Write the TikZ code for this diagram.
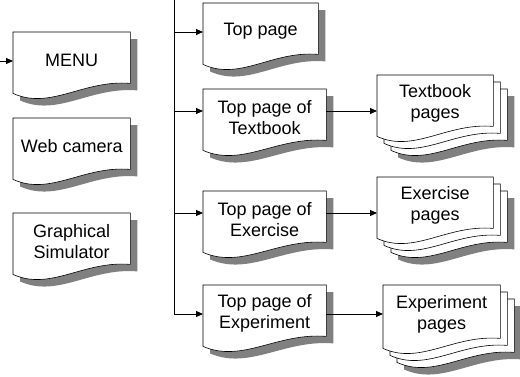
\documentclass[tikz,border=0pt]{standalone}
\usepackage{fontspec}
\setmainfont{Liberation Sans}
\usetikzlibrary{calc,arrows.meta}
\pgfdeclarelayer{background}
\pgfsetlayers{background,main}
\definecolor{shadowc}{HTML}{808080}
% #1 node, #2 shift, #3 options
\newcommand\docshape[3]{%
  \path[#3] ($(#1.north west)+#2$) -- ($(#1.north east)+#2$) -- ($(#1.south east)+(0,5pt)+#2$)
    .. controls ($(#1.south west)!0.6!(#1.south east)+(0,9pt)+#2$) and ($(#1.south west)!0.32!(#1.south east)+(0,-22pt)+#2$)
    .. ($(#1.south west)+(0,-5pt)+#2$) -- cycle;}
\newcommand\onedoc[1]{%
  \docshape{#1}{(7pt,-7pt)}{fill=shadowc}%
  \docshape{#1}{(0pt,0pt)}{docline}}
\newcommand\stackdoc[1]{%
  \docshape{#1}{(21pt,-21pt)}{fill=shadowc}%
  \docshape{#1}{(14pt,-14pt)}{docline}%
  \docshape{#1}{(7pt,-7pt)}{docline}%
  \docshape{#1}{(0pt,0pt)}{docline}}
\tikzset{
  doc/.style={anchor=north west, minimum height=56pt, inner sep=0pt, align=center,
    font=\fontsize{18}{21}\selectfont},
  docline/.style={fill=white, draw=black, line width=0.6pt},
  arr/.style={line width=0.9pt, -{Triangle[length=7pt,width=6pt]}},
  ln/.style={line width=0.9pt}
}
\begin{document}
\begin{tikzpicture}[x=1pt,y=-1pt]
\useasboundingbox (0,0) rectangle (520,376);
% left column
\node[doc, minimum width=117pt] (menu) at (13,32) {MENU};
\node[doc, minimum width=117pt] (web) at (13,118) {Web camera};
\node[doc, minimum width=117pt] (sim) at (13,213) {Graphical\\Simulator};
% middle column
\node[doc, minimum width=115pt] (top) at (203,3) {Top page};
\node[doc, minimum width=123pt] (tb) at (203,89) {Top page of\\Textbook};
\node[doc, minimum width=123pt] (ex) at (203,191) {Top page of\\Exercise};
\node[doc, minimum width=123pt] (xp) at (203,285) {Top page of\\Experiment};
% right column
\node[doc, minimum width=116pt] (tbp) at (377,75) {Textbook\\pages};
\node[doc, minimum width=116pt] (exp) at (377,177) {Exercise\\pages};
\node[doc, minimum width=117pt, minimum height=58pt] (xpp) at (383,285) {Experiment\\pages};
\begin{pgfonlayer}{background}
\onedoc{menu}\onedoc{web}\onedoc{sim}
\onedoc{top}\onedoc{tb}\onedoc{ex}\onedoc{xp}
\stackdoc{tbp}\stackdoc{exp}\stackdoc{xpp}
\end{pgfonlayer}
% connectors
\coordinate (in) at (0,61);
\draw[arr] (in) -- (in -| menu.west);
\coordinate (ttop) at (174,0);
\coordinate (a1) at ($(top.north west)+(0,-29pt)$);
\coordinate (a2) at ($(tb.north west)+(0,-22pt)$);
\coordinate (a3) at ($(ex.north west)+(0,-22pt)$);
\coordinate (a4) at ($(xp.north west)+(0,-29pt)$);
\draw[ln] (ttop) -- (ttop |- a4);
\draw[arr] (ttop |- a1) -- (a1);
\draw[arr] (ttop |- a2) -- (a2);
\draw[arr] (ttop |- a3) -- (a3);
\draw[arr] (ttop |- a4) -- (a4);
\coordinate (b2) at ($(tb.north east)+(0,-22pt)$);
\coordinate (b3) at ($(ex.north east)+(0,-22pt)$);
\coordinate (b4) at ($(xp.north east)+(0,-29pt)$);
\draw[arr] (b2) -- (b2 -| tbp.west);
\draw[arr] (b3) -- (b3 -| exp.west);
\draw[arr] (b4) -- (b4 -| xpp.west);
\end{tikzpicture}
\end{document}
